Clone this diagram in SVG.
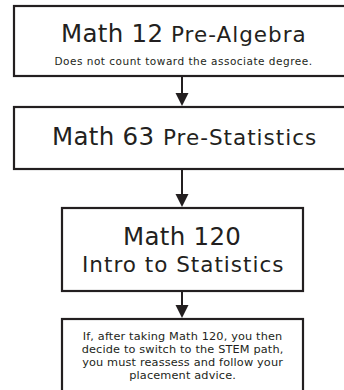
<svg xmlns="http://www.w3.org/2000/svg" width="344" height="390" viewBox="0 0 344 390">
<defs>
<style>
.box{fill:#fff;stroke:#231f20;stroke-width:2.2}
.t{font-family:"DejaVu Sans",Verdana,sans-serif;fill:#231f20}
.big{font-size:24.5px;letter-spacing:0.3px}
.mid{font-size:21.5px;letter-spacing:1px}
.sm{font-size:10.5px;letter-spacing:0.5px;text-anchor:middle}
.note{font-size:11.3px;letter-spacing:0.15px;text-anchor:middle}
.con{stroke:#231f20;stroke-width:2;fill:none}
.head{fill:#231f20}
</style>
</defs>
<rect width="344" height="390" fill="#fff"/>
<g id="connectors">
<line class="con" x1="182" y1="77" x2="182" y2="94"/>
<path class="head" d="M175.5,93 L188.5,93 L182,106 Z"/>
<line class="con" x1="182" y1="169" x2="182" y2="195"/>
<path class="head" d="M175.5,194 L188.5,194 L182,207 Z"/>
<line class="con" x1="182" y1="291" x2="182" y2="306"/>
<path class="head" d="M175.5,305 L188.5,305 L182,318 Z"/>
</g>
<g id="n1">
<rect class="box" x="14" y="6" width="336" height="70"/>
<text class="t big" x="61" y="42">Math 12</text>
<text class="t mid" x="171" y="42">Pre-Algebra</text>
<text class="t sm" x="183.5" y="65">Does not count toward the associate degree.</text>
</g>
<g id="n2">
<rect class="box" x="14" y="107" width="336" height="62"/>
<text class="t big" x="52" y="145">Math 63</text>
<text class="t mid" x="163" y="145">Pre-Statistics</text>
</g>
<g id="n3">
<rect class="box" x="62" y="208" width="241" height="83"/>
<text class="t big" x="123" y="245">Math 120</text>
<text class="t mid" x="82" y="272">Intro to Statistics</text>
</g>
<g id="n4">
<rect class="box" x="62" y="319" width="241" height="80"/>
<text class="t note" x="182.6" y="340">If, after taking Math 120, you then</text>
<text class="t note" x="182.6" y="353">decide to switch to the STEM path,</text>
<text class="t note" x="182.6" y="366">you must reassess and follow your</text>
<text class="t note" x="182.6" y="379">placement advice.</text>
</g>
</svg>
